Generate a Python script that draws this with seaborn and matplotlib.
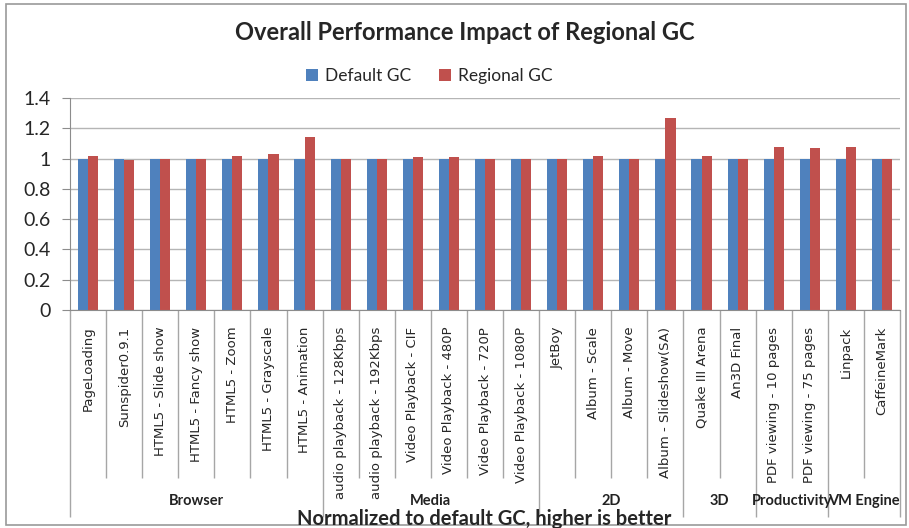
import numpy as np
import pandas as pd
import seaborn as sns
import matplotlib.pyplot as plt
from matplotlib.patches import Rectangle

benchmarks = [
    "PageLoading", "Sunspider0.9.1", "HTML5 - Slide show", "HTML5 - Fancy show",
    "HTML5 - Zoom", "HTML5 - Grayscale", "HTML5 - Animation",
    "audio playback - 128Kbps", "audio playback - 192Kbps", "Video Playback - CIF",
    "Video Playback - 480P", "Video Playback - 720P", "Video Playback - 1080P",
    "JetBoy", "Album - Scale", "Album - Move", "Album - Slideshow(SA)",
    "Quake III Arena", "An3D Final",
    "PDF viewing - 10 pages", "PDF viewing - 75 pages",
    "Linpack", "CaffeineMark",
]
group_names = ["Browser", "Media", "2D", "3D", "Productivity", "VM Engine"]
group_sizes = [7, 6, 4, 2, 2, 2]

default_gc = [1.00, 1.00, 1.00, 1.00, 1.00, 1.00, 1.00, 1.00, 1.00, 1.00, 1.00, 1.00,
              1.00, 1.00, 1.00, 1.00, 1.00, 1.00, 1.00, 1.00, 1.00, 1.00, 1.00]
regional_gc = [1.02, 0.99, 1.00, 1.00, 1.02, 1.03, 1.14, 1.00, 1.00, 1.01, 1.01, 1.00,
               1.00, 1.00, 1.015, 1.00, 1.27, 1.02, 1.00, 1.075, 1.07, 1.075, 1.00]

df = pd.DataFrame({"Benchmark": benchmarks, "Default GC": default_gc, "Regional GC": regional_gc})
df = df.melt(id_vars="Benchmark", var_name="Config", value_name="Score")

sns.set_style("white")
plt.rcParams['font.family'] = ['Lato', 'DejaVu Sans']

W, H = 909, 528
fig = plt.figure(figsize=(W / 100, H / 100), dpi=100)
ax = fig.add_axes([70 / W, 1 - 310 / H, 830 / W, 212 / H])

sns.barplot(data=df, x="Benchmark", y="Score", hue="Config",
            palette=["#4F81BD", "#C0504D"], width=0.56, gap=0,
            saturation=1, linewidth=0, ax=ax)

ax.set_xlim(-0.5, len(benchmarks) - 0.5)
ax.set_ylim(0, 1.4)
ax.set_yticks(np.arange(0, 1.41, 0.2))
ax.yaxis.set_major_formatter(plt.FormatStrFormatter('%g'))
ax.yaxis.grid(True, color='#b5b5b5', lw=1)
ax.set_axisbelow(True)
for s in ['top', 'right']:
    ax.spines[s].set_visible(False)
for s in ['left', 'bottom']:
    ax.spines[s].set_color('#8c8c8c')
ax.tick_params(axis='y', left=True, length=6, color='#8c8c8c', labelsize=14, pad=8)
ax.tick_params(axis='x', length=0, pad=12)
ax.set_xticks(range(len(benchmarks)))
ax.set_xticklabels(benchmarks, rotation=90, va='top', fontsize=9.5,
                   family=['Liberation Sans Narrow', 'DejaVu Sans'])
ax.set_xlabel("")
ax.set_ylabel("")

# category separators and group separators below the axis
xt = ax.get_xaxis_transform()
group_edges = list(np.cumsum([0] + group_sizes) - 0.5)
item_edges = [k - 0.5 for k in range(len(benchmarks) + 1) if (k - 0.5) not in group_edges]
ax.vlines(item_edges, -0.792, 0, transform=xt, clip_on=False, color='#a6a6a6', lw=1)
ax.vlines(group_edges, -0.976, 0, transform=xt, clip_on=False, color='#a6a6a6', lw=1)
for name, lo, hi in zip(group_names, group_edges[:-1], group_edges[1:]):
    ax.text((lo + hi) / 2, -0.9, name, transform=xt, ha='center', va='center',
            fontsize=10.5, fontweight='bold', color='#222222')

handles, labels = ax.get_legend_handles_labels()
ax.get_legend().remove()
fig.legend(handles, labels, loc='center', bbox_to_anchor=(0.472, 1 - 76 / H), ncol=2,
           frameon=False, fontsize=12.5, handlelength=0.7, handleheight=0.7,
           handletextpad=0.4, columnspacing=1.6)

fig.text(0.511, 1 - 33 / H, "Overall Performance Impact of Regional GC",
         ha='center', va='center', fontsize=17, fontweight='bold')
fig.text(0.533, 1 - 519 / H, "Normalized to default GC, higher is better",
         ha='center', va='center', fontsize=14.5, fontweight='bold')

fig.add_artist(Rectangle((6 / W, 3 / H), 900 / W, 521 / H, transform=fig.transFigure,
                         fill=False, edgecolor='#9a9a9a', lw=1.2))

fig.savefig("out.png", dpi=100)
